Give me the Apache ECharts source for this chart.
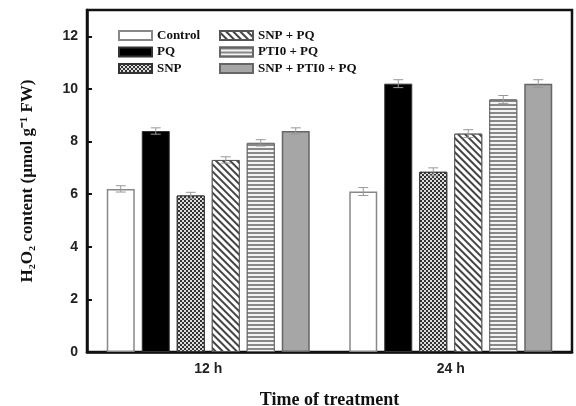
<!DOCTYPE html>
<html>
<head>
<meta charset="utf-8">
<script src="https://cdn.jsdelivr.net/npm/echarts@6/dist/echarts.min.js"></script>
<style>
  html, body { margin: 0; padding: 0; background: #fff; }
  #main { width: 576px; height: 406px; }
</style>
</head>
<body>
<div id="main"></div>
<script>
// data
var categories = ['12 h', '24 h'];
var names = ['Control', 'PQ', 'SNP', 'SNP + PQ', 'PTI0 + PQ', 'SNP + PTI0 + PQ'];
var control = [6.2, 6.1];
var pq = [8.4, 10.2];
var snp = [5.95, 6.85];
var snpPq = [7.3, 8.3];
var ptiPq = [7.95, 9.6];
var snpPtiPq = [8.4, 10.2];
var errs = [0.12, 0.15];
var yTicks = [0, 2, 4, 6, 8, 10, 12];

var values = [control, pq, snp, snpPq, ptiPq, snpPtiPq];

var BAR_W = 28;
var GAP = 7;

var styles = [
  { color: '#fff', borderColor: '#888', borderWidth: 1.5 },
  { color: '#000', borderColor: '#333', borderWidth: 1 },
  { color: '#444', borderColor: '#333', borderWidth: 1,
    decal: { symbol: 'rect', symbolSize: 1, dashArrayX: [[2, 2], [0, 2, 2, 0]], dashArrayY: [2, 0], color: '#ddd', backgroundColor: '#333' } },
  { color: '#fff', borderColor: '#555', borderWidth: 1,
    decal: { symbol: 'rect', symbolSize: 1, dashArrayX: [1, 0], dashArrayY: [1.2, 2.6], rotation: Math.PI / 4, color: '#444', backgroundColor: '#fff' } },
  { color: '#eee', borderColor: '#666', borderWidth: 1,
    decal: { symbol: 'rect', symbolSize: 1, dashArrayX: [1, 0], dashArrayY: [1.5, 2], rotation: 0, color: '#888', backgroundColor: '#f4f4f4' } },
  { color: '#a6a6a6', borderColor: '#666', borderWidth: 1.5 }
];

var series = [];
names.forEach(function (n, i) {
  series.push({
    name: n,
    type: 'bar',
    barWidth: BAR_W,
    barGap: (GAP / BAR_W * 100) + '%',
    data: values[i],
    itemStyle: styles[i]
  });
});
values.forEach(function (vals, i) {
  series.push({
    type: 'custom',
    z: 10,
    silent: true,
    data: vals.map(function (v, k) { return [k, v + errs[k], v - errs[k]]; }),
    renderItem: function (params, api) {
      var base = api.coord([api.value(0), 0]);
      var x = base[0] + (i - 2.5) * (BAR_W + GAP);
      var hi = api.coord([api.value(0), api.value(1)])[1];
      var lo = api.coord([api.value(0), api.value(2)])[1];
      var st = { stroke: '#999', lineWidth: 1 };
      return {
        type: 'group',
        children: [
          { type: 'line', shape: { x1: x, y1: hi, x2: x, y2: lo }, style: st },
          { type: 'line', shape: { x1: x - 5, y1: hi, x2: x + 5, y2: hi }, style: st },
          { type: 'line', shape: { x1: x - 5, y1: lo, x2: x + 5, y2: lo }, style: st }
        ]
      };
    }
  });
});

var legendText = { fontFamily: 'Liberation Serif', fontWeight: 'bold', fontSize: 13, color: '#111' };

var myChart = echarts.init(document.getElementById('main'));
var option = {
  animation: false,
  grid: { left: 87, right: 4, top: 10, bottom: 54, outerBoundsMode: 'none', containLabel: false,
    show: true, borderColor: '#111', borderWidth: 2.5, backgroundColor: 'transparent' },
  legend: [
    { data: names.slice(0, 3), orient: 'vertical', left: 118, top: 29, padding: 0, icon: 'rect',
      itemWidth: 33, itemHeight: 9, itemGap: 3.5, textStyle: legendText },
    { data: names.slice(3), orient: 'vertical', left: 219, top: 29, padding: 0, icon: 'rect',
      itemWidth: 33, itemHeight: 9, itemGap: 3.5, textStyle: legendText }
  ],
  xAxis: {
    type: 'category',
    data: categories,
    name: 'Time of treatment',
    nameLocation: 'middle',
    nameGap: 39,
    nameTextStyle: { fontFamily: 'Liberation Serif', fontWeight: 'bold', fontSize: 18, color: '#111' },
    axisLine: { lineStyle: { color: '#111', width: 2.5 } },
    axisTick: { show: false },
    axisLabel: { fontFamily: 'Liberation Sans', fontWeight: 'bold', fontSize: 14, color: '#222', margin: 10 }
  },
  yAxis: {
    type: 'value',
    min: 0,
    max: 13,
    interval: 2,
    name: 'H\u2082O\u2082 content (\u00b5mol g\u207b\u00b9 FW)',
    nameLocation: 'middle',
    nameGap: 51,
    nameTextStyle: { fontFamily: 'Liberation Serif', fontWeight: 'bold', fontSize: 17, color: '#111' },
    axisLine: { show: true, lineStyle: { color: '#111', width: 2.5 } },
    axisTick: { show: true, inside: true, length: 5, lineStyle: { color: '#111', width: 2 } },
    axisLabel: {
      fontFamily: 'Liberation Sans', fontWeight: 'bold', fontSize: 14, color: '#222', margin: 9,
      formatter: function (v) { return yTicks.indexOf(v) >= 0 ? String(v) : ''; }
    },
    splitLine: { show: false }
  },
  series: series
};
myChart.setOption(option);
</script>
</body>
</html>
